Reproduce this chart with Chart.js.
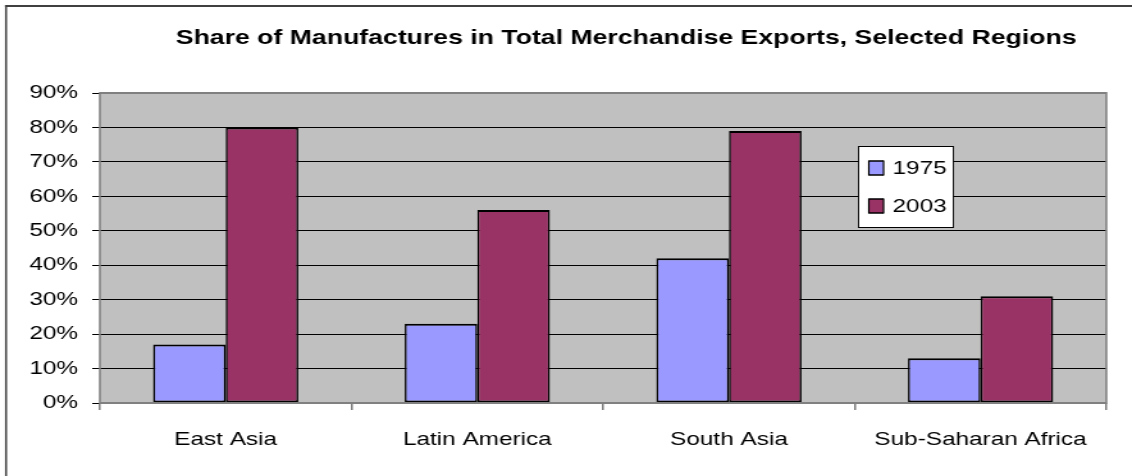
<!DOCTYPE html>
<html>
<head>
<meta charset="utf-8">
<script src="https://cdn.jsdelivr.net/npm/chart.js@4.4.0/dist/chart.umd.min.js"></script>
<style>
  html, body { margin: 0; padding: 0; background: #fff; overflow: hidden; }
  /* the original picture is a horizontally stretched Excel chart */
  #wrap { width: 884px; height: 476px; transform: scaleX(1.2805); transform-origin: 0 0; }
</style>
</head>
<body>
<div id="wrap"><canvas id="exportsChart" width="884" height="476"></canvas></div>
<script>
const regions = ["East Asia", "Latin America", "South Asia", "Sub-Saharan Africa"];
const share1975 = [17, 23, 42, 13];
const share2003 = [80, 56, 79, 31];
const chartTitle = "Share of Manufactures in Total Merchandise Exports, Selected Regions";

const FONT = "'Liberation Sans', Arial, sans-serif";
const VLINE = 1 / 1.2805; // vertical lines get stretched, so thin them

// gray plot area + frame, outer border, title and legend box
const excelLook = {
  id: "excelLook",
  beforeDraw(chart) {
    const { ctx, chartArea: a } = chart;
    ctx.save();
    ctx.fillStyle = "#c0c0c0";
    ctx.fillRect(a.left, a.top, a.right - a.left, a.bottom - a.top);
    ctx.restore();
  },
  afterDatasetsDraw(chart) {
    const { ctx, chartArea: a } = chart;
    ctx.save();
    ctx.strokeStyle = "#808080";
    ctx.lineWidth = 2;
    ctx.beginPath();
    ctx.moveTo(a.left, a.top); ctx.lineTo(a.right, a.top);
    ctx.moveTo(a.left, a.bottom); ctx.lineTo(a.right, a.bottom);
    ctx.stroke();
    ctx.lineWidth = 2 * VLINE;
    ctx.beginPath();
    ctx.moveTo(a.left, a.top - 1); ctx.lineTo(a.left, a.bottom + 1);
    ctx.moveTo(a.right, a.top - 1); ctx.lineTo(a.right, a.bottom + 1);
    ctx.stroke();
    ctx.restore();
  },
  afterDraw(chart) {
    const { ctx } = chart;
    ctx.save();
    // outer border (only top & left are in the picture)
    ctx.strokeStyle = "#404040";
    ctx.lineWidth = 2;
    ctx.beginPath();
    ctx.moveTo(3.9, 6);
    ctx.lineTo(884, 6);
    ctx.stroke();
    ctx.lineWidth = 2 * VLINE;
    ctx.beginPath();
    ctx.moveTo(4.7, 5);
    ctx.lineTo(4.7, 476);
    ctx.stroke();

    // title
    ctx.fillStyle = "#000";
    ctx.font = "bold 20.8px " + FONT;
    ctx.textAlign = "center";
    ctx.textBaseline = "middle";
    ctx.fillText(chartTitle, 489, 38);

    // legend
    const lx = 670.5, ly = 146, lw = 74, lh = 81;
    ctx.fillStyle = "#fff";
    ctx.fillRect(lx, ly, lw, lh);
    ctx.strokeStyle = "#000";
    ctx.lineWidth = 1;
    ctx.beginPath();
    ctx.moveTo(lx, ly + 0.5); ctx.lineTo(lx + lw, ly + 0.5);
    ctx.moveTo(lx, ly + lh + 0.5); ctx.lineTo(lx + lw, ly + lh + 0.5);
    ctx.stroke();
    ctx.lineWidth = 1.2 * VLINE;
    ctx.beginPath();
    ctx.moveTo(lx, ly); ctx.lineTo(lx, ly + lh + 1);
    ctx.moveTo(lx + lw, ly); ctx.lineTo(lx + lw, ly + lh + 1);
    ctx.stroke();

    ctx.font = "19px " + FONT;
    ctx.textAlign = "left";
    chart.data.datasets.forEach((ds, i) => {
      const cy = ly + 22 + i * 38;
      ctx.fillStyle = ds.backgroundColor;
      ctx.fillRect(lx + 8, cy - 7, 11.5, 14);
      ctx.strokeStyle = "#000";
      ctx.lineWidth = 1.5;
      ctx.beginPath();
      ctx.moveTo(lx + 8, cy - 7); ctx.lineTo(lx + 19.5, cy - 7);
      ctx.moveTo(lx + 8, cy + 7); ctx.lineTo(lx + 19.5, cy + 7);
      ctx.stroke();
      ctx.lineWidth = 1.5 * VLINE;
      ctx.beginPath();
      ctx.moveTo(lx + 8, cy - 7.5); ctx.lineTo(lx + 8, cy + 7.5);
      ctx.moveTo(lx + 19.5, cy - 7.5); ctx.lineTo(lx + 19.5, cy + 7.5);
      ctx.stroke();
      ctx.fillStyle = "#000";
      ctx.fillText(ds.label, lx + 26.5, cy + 1);
    });
    ctx.restore();
  }
};

const barBorder = { top: 2, bottom: 2, left: 2 * VLINE, right: 2 * VLINE };

const ctx = document.getElementById("exportsChart").getContext("2d");
new Chart(ctx, {
  type: "bar",
  data: {
    labels: regions,
    datasets: [
      {
        label: "1975",
        data: share1975,
        backgroundColor: "#9999ff",
        borderColor: "#000",
        borderWidth: barBorder,
        borderSkipped: false,
        categoryPercentage: 0.577,
        barPercentage: 1.0
      },
      {
        label: "2003",
        data: share2003,
        backgroundColor: "#993366",
        borderColor: "#000",
        borderWidth: barBorder,
        borderSkipped: false,
        categoryPercentage: 0.577,
        barPercentage: 1.0
      }
    ]
  },
  options: {
    responsive: false,
    animation: false,
    layout: { padding: { left: 0, right: 20, top: 93, bottom: 0 } },
    plugins: {
      legend: { display: false },
      title: { display: false },
      tooltip: { enabled: false }
    },
    scales: {
      x: {
        offset: true,
        grid: {
          offset: true,
          drawOnChartArea: false,
          drawTicks: true,
          tickLength: 7,
          color: "#808080",
          lineWidth: 2 * VLINE
        },
        border: { display: false },
        ticks: {
          color: "#000",
          padding: 18,
          font: { family: FONT, size: 19 }
        },
        afterFit(scale) { scale.height = 73; }
      },
      y: {
        min: 0,
        max: 90,
        ticks: {
          stepSize: 10,
          color: "#000",
          padding: 11,
          callback: v => v + "%",
          font: { family: FONT, size: 19 }
        },
        grid: {
          color: "#000",
          lineWidth: 1,
          tickLength: 6,
          drawTicks: true
        },
        border: { display: false },
        afterFit(scale) { scale.width = 78; }
      }
    }
  },
  plugins: [excelLook]
});
</script>
</body>
</html>
